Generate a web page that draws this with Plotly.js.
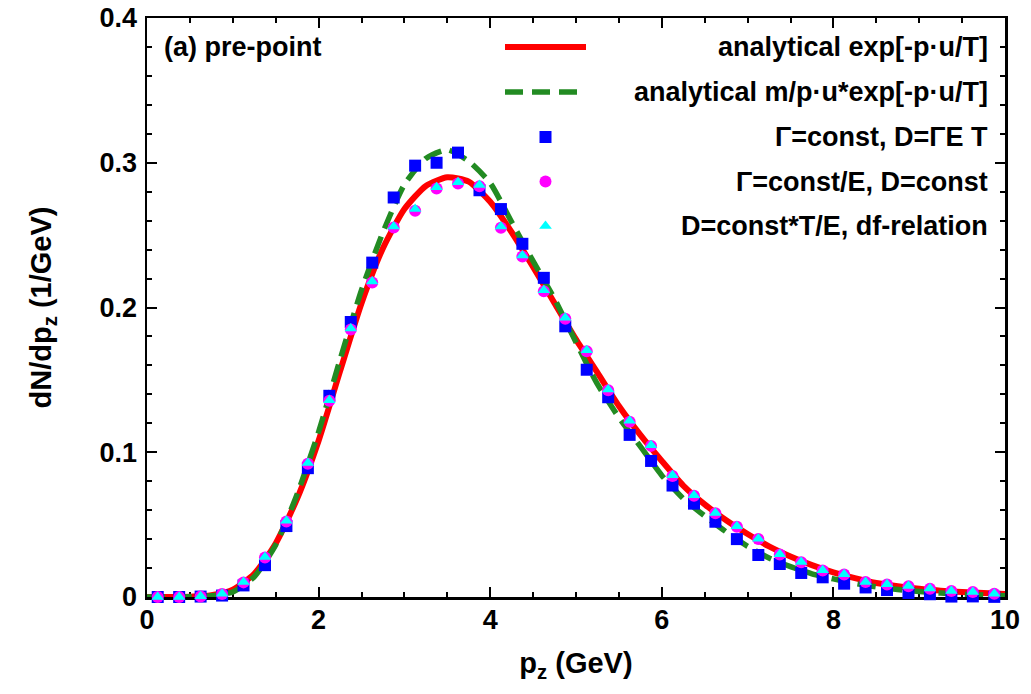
<!DOCTYPE html>
<html>
<head>
<meta charset="utf-8">
<script src="https://cdn.plot.ly/plotly-3.0.1.min.js"></script>
<style>html,body{margin:0;padding:0;background:#fff}#chart{width:1031px;height:694px}</style>
</head>
<body>
<div id="chart"></div>
<script>
// ---- data ----
const curveX = [0,0.25,0.5,0.75,1,1.25,1.5,1.75,2,2.25,2.5,2.75,3,3.25,3.5,3.75,4,4.25,4.5,4.75,5,5.25,5.5,5.75,6,6.25,6.5,6.75,7,7.25,7.5,7.75,8,8.25,8.5,8.75,9,9.25,9.5,9.75,10];
const analyticalExp = [0,0,0.0002,0.0012,0.005,0.016,0.037,0.068,0.108,0.156,0.203,0.241,0.268,0.284,0.290,0.287,0.273,0.252,0.228,0.203,0.178,0.155,0.132,0.112,0.094,0.077,0.064,0.053,0.0435,0.035,0.028,0.022,0.017,0.013,0.0097,0.0075,0.0057,0.0044,0.0034,0.0027,0.0021];
const analyticalMpu = [0,0,0.0001,0.0008,0.0035,0.014,0.036,0.071,0.114,0.164,0.212,0.252,0.285,0.303,0.309,0.301,0.286,0.259,0.232,0.206,0.176,0.147,0.124,0.104,0.084,0.068,0.056,0.045,0.035,0.027,0.021,0.016,0.0125,0.0094,0.007,0.0052,0.0038,0.0027,0.0019,0.0013,0.0009];

const pointX = [0.125,0.375,0.625,0.875,1.125,1.375,1.625,1.875,2.125,2.375,2.625,2.875,3.125,3.375,3.625,3.875,4.125,4.375,4.625,4.875,5.125,5.375,5.625,5.875,6.125,6.375,6.625,6.875,7.125,7.375,7.625,7.875,8.125,8.375,8.625,8.875,9.125,9.375,9.625,9.875];
const gammaConst = [0,0,0.0003,0.001,0.008,0.022,0.049,0.089,0.139,0.190,0.231,0.276,0.298,0.300,0.307,0.281,0.268,0.244,0.2205,0.187,0.157,0.138,0.112,0.094,0.077,0.0645,0.052,0.040,0.029,0.0228,0.0166,0.0136,0.0092,0.0066,0.0048,0.0028,0.0019,0.0003,0.0004,0.0001];
const gammaConstE = [0,0,0.0004,0.0021,0.0101,0.0273,0.0521,0.0921,0.1355,0.1848,0.2172,0.2552,0.2668,0.2822,0.2857,0.2838,0.2551,0.2352,0.2112,0.1923,0.1698,0.1428,0.1211,0.1044,0.0836,0.0699,0.0578,0.0486,0.0401,0.0293,0.024,0.0183,0.0156,0.0103,0.0087,0.0075,0.0057,0.0041,0.0034,0.0022];
const dfRelation = [0,0,0.0005,0.0023,0.0104,0.0277,0.0526,0.0926,0.136,0.1855,0.218,0.256,0.268,0.283,0.2865,0.2846,0.256,0.236,0.212,0.193,0.1705,0.1434,0.1217,0.1049,0.0841,0.0703,0.0581,0.0489,0.0403,0.0295,0.0242,0.0185,0.0157,0.0104,0.0088,0.0076,0.0058,0.0042,0.0035,0.0023];

const seriesNames = [
  'analytical exp[-p\u00b7u/T]',
  'analytical m/p\u00b7u*exp[-p\u00b7u/T]',
  '\u0393=const, D=\u0393E T',
  '\u0393=const/E, D=const',
  'D=const*T/E, df-relation'
];
const panelLabel = '(a) pre-point';
const xTickVals = [0,2,4,6,8,10];
const xTickText = ['0','2','4','6','8','10'];
const yTickVals = [0,0.1,0.2,0.3,0.4];
const yTickText = ['0','0.1','0.2','0.3','0.4'];

// ---- styles ----
const W = 1031, H = 694;
const M = {l:147, r:26, t:18, b:97};
const PW = W - M.l - M.r, PH = H - M.t - M.b;
const FONT = 'Liberation Sans, Arial, Helvetica, sans-serif';
const FS = 27;
const FT = 29;
const colors = ['#ff0000', '#228b22', '#0000ff', '#ff00ff', '#00ffff'];
const greenDash = '18px,9px';

const traces = [
  {x: curveX, y: analyticalExp, mode: 'lines', line: {color: colors[0], width: 6, shape: 'spline', smoothing: 0.6}, cliponaxis: false, showlegend: false, name: seriesNames[0]},
  {x: curveX, y: analyticalMpu, mode: 'lines', line: {color: colors[1], width: 5.5, dash: greenDash, shape: 'spline', smoothing: 0.6}, cliponaxis: false, showlegend: false, name: seriesNames[1]},
  {x: pointX, y: gammaConst, mode: 'markers', marker: {symbol: 'square', size: 12, color: colors[2]}, cliponaxis: false, showlegend: false, name: seriesNames[2]},
  {x: pointX, y: gammaConstE, mode: 'markers', marker: {symbol: 'circle', size: 12, color: colors[3]}, cliponaxis: false, showlegend: false, name: seriesNames[3]},
  {x: pointX, y: dfRelation, mode: 'markers', marker: {symbol: 'triangle-up', size: 11, color: colors[4]}, cliponaxis: false, showlegend: false, name: seriesNames[4]}
];

// legend layout (pixel positions converted to paper fractions)
const px2x = p => (p - M.l) / PW;
const px2y = p => (H - M.b - p) / PH;
const legTextRight = 990;
const legLineX0 = 505, legLineX1 = 586, legPtX = 545.5;
const legRows = [47, 92, 137, 181.5, 226];

const annotations = seriesNames.map((t, i) => ({
  text: t, xref: 'paper', yref: 'paper', x: px2x(legTextRight), y: px2y(legRows[i]),
  xanchor: 'right', yanchor: 'middle', showarrow: false,
  font: {family: FONT, size: FS, color: '#000', weight: 700}
}));
annotations.push({
  text: panelLabel, xref: 'paper', yref: 'paper', x: px2x(162), y: px2y(legRows[0]),
  xanchor: 'left', yanchor: 'middle', showarrow: false,
  font: {family: FONT, size: FS, color: '#000', weight: 700}
});

const shapes = [];
shapes.push({type: 'line', xref: 'paper', yref: 'paper', x0: px2x(legLineX0), x1: px2x(legLineX1), y0: px2y(legRows[0]), y1: px2y(legRows[0]), line: {color: colors[0], width: 6}});
shapes.push({type: 'line', xref: 'paper', yref: 'paper', x0: px2x(legLineX0), x1: px2x(legLineX1), y0: px2y(legRows[1]), y1: px2y(legRows[1]), line: {color: colors[1], width: 5.5, dash: greenDash}});
const hs = 6;
shapes.push({type: 'rect', xref: 'paper', yref: 'paper', x0: px2x(legPtX - hs), x1: px2x(legPtX + hs), y0: px2y(legRows[2] + hs), y1: px2y(legRows[2] - hs), line: {width: 0}, fillcolor: colors[2]});
shapes.push({type: 'circle', xref: 'paper', yref: 'paper', x0: px2x(legPtX - hs), x1: px2x(legPtX + hs), y0: px2y(legRows[3] + hs), y1: px2y(legRows[3] - hs), line: {width: 0}, fillcolor: colors[3]});
const tr = 6.4, cy = legRows[4];
shapes.push({type: 'path', xref: 'paper', yref: 'paper',
  path: 'M' + px2x(legPtX - tr) + ',' + px2y(cy + 2.8) + ' L' + px2x(legPtX + tr) + ',' + px2y(cy + 2.8) + ' L' + px2x(legPtX) + ',' + px2y(cy - 5.5) + ' Z',
  line: {width: 0}, fillcolor: colors[4]});

const axisCommon = {
  showline: true, linecolor: '#000', linewidth: 2.5, mirror: 'ticks',
  ticks: 'inside', ticklen: 10, tickwidth: 2, tickcolor: '#000',
  showgrid: false, zeroline: false, layer: 'below traces',
  tickfont: {family: FONT, size: FS, color: '#000', weight: 700},
  tickmode: 'array', fixedrange: true
};

const layout = {
  width: W, height: H, margin: M,
  paper_bgcolor: '#fff', plot_bgcolor: '#fff',
  font: {family: FONT, size: FS, color: '#000', weight: 700},
  showlegend: false,
  xaxis: Object.assign({}, axisCommon, {
    range: [0, 10], tickvals: xTickVals, ticktext: xTickText,
    minor: {dtick: 0.5, tick0: 0, ticks: 'inside', ticklen: 5, tickwidth: 2, tickcolor: '#000', showgrid: false},
    ticklabelstandoff: -3,
    title: {text: 'p<sub>z</sub> (GeV)', font: {family: FONT, size: FT, color: '#000', weight: 700}, standoff: 19}
  }),
  yaxis: Object.assign({}, axisCommon, {
    range: [0, 0.4], tickvals: yTickVals, ticktext: yTickText,
    minor: {dtick: 0.02, tick0: 0, ticks: 'inside', ticklen: 5, tickwidth: 2, tickcolor: '#000', showgrid: false},
    ticklabelstandoff: 2,
    title: {text: 'dN/dp<sub>z</sub> (1/GeV)', font: {family: FONT, size: FT, color: '#000', weight: 700}, standoff: 40}
  }),
  annotations: annotations,
  shapes: shapes
};

Plotly.newPlot('chart', traces, layout, {staticPlot: true, displayModeBar: false});
</script>
</body>
</html>
